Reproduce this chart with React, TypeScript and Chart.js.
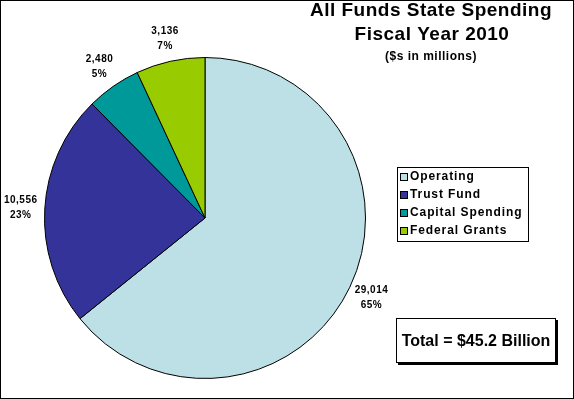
import React, { useEffect, useRef } from "react";
import { Chart, registerables } from "chart.js";

Chart.register(...registerables);

const categories = ["Operating", "Trust Fund", "Capital Spending", "Federal Grants"];
const values = [29014, 10556, 2480, 3136];
const percentLabels = ["65%", "23%", "5%", "7%"];
const colors = ["#BCE0E5", "#333399", "#009999", "#99CC00"];
const titleLines = ["All Funds State Spending", "Fiscal Year 2010"];
const subtitle = "($s in millions)";
const totalText = "Total = $45.2 Billion";

const FONT = '"Liberation Sans", Arial, sans-serif';

const decorPlugin = {
  id: "decor",
  beforeDraw(chart: any) {
    const ctx = chart.ctx;
    ctx.save();
    ctx.fillStyle = "#ffffff";
    ctx.fillRect(0, 0, chart.width, chart.height);
    ctx.restore();
  },
  afterDraw(chart: any) {
    const ctx = chart.ctx as CanvasRenderingContext2D;
    const W = chart.width;
    const H = chart.height;
    ctx.save();
    // outer border
    ctx.strokeStyle = "#000";
    ctx.lineWidth = 1;
    ctx.strokeRect(0.5, 0.5, W - 1, H - 1);

    // titles
    ctx.fillStyle = "#000";
    ctx.textAlign = "center";
    ctx.textBaseline = "middle";
    (ctx as any).letterSpacing = "0.5px";
    ctx.font = `bold 19px ${FONT}`;
    ctx.fillText(titleLines[0], 431, 11);
    ctx.fillText(titleLines[1], 432, 35);
    ctx.font = `bold 12px ${FONT}`;
    ctx.fillText(subtitle, 431, 57);

    // data labels
    const meta = chart.getDatasetMeta(0);
    ctx.font = `bold 10px ${FONT}`;
    meta.data.forEach((arc: any, i: number) => {
      const p = arc.getProps(["x", "y", "startAngle", "endAngle", "outerRadius"], true);
      const mid = (p.startAngle + p.endAngle) / 2;
      const d = p.outerRadius * 1.15;
      const cx = p.x + Math.cos(mid) * d;
      const cy = p.y + Math.sin(mid) * d;
      ctx.fillText(values[i].toLocaleString("en-US"), cx, cy - 7);
      ctx.fillText(percentLabels[i], cx, cy + 8);
    });

    // legend
    const lx = 397, ly = 167, lw = 131, lh = 74;
    ctx.strokeStyle = "#000";
    ctx.strokeRect(lx + 0.5, ly + 0.5, lw, lh);
    ctx.textAlign = "left";
    ctx.font = `bold 12px ${FONT}`;
    (ctx as any).letterSpacing = "0.9px";
    categories.forEach((c, i) => {
      const ry = ly + 10 + i * 18;
      ctx.fillStyle = colors[i];
      ctx.fillRect(lx + 3, ry - 4, 7, 7);
      ctx.strokeStyle = "#000";
      ctx.strokeRect(lx + 3.5, ry - 3.5, 7, 7);
      ctx.fillStyle = "#000";
      ctx.fillText(c, lx + 13, ry);
    });

    // total box
    const bx = 396, by = 318, bw = 160, bh = 45;
    ctx.fillStyle = "#000";
    ctx.fillRect(bx + 2, by + 2, bw, bh);
    ctx.fillStyle = "#fff";
    ctx.fillRect(bx, by, bw, bh);
    ctx.strokeStyle = "#000";
    ctx.strokeRect(bx + 0.5, by + 0.5, bw - 1, bh - 1);
    ctx.fillStyle = "#000";
    ctx.textAlign = "center";
    (ctx as any).letterSpacing = "0px";
    ctx.font = `bold 16px ${FONT}`;
    ctx.fillText(totalText, bx + bw / 2, by + bh / 2 + 1);
    ctx.restore();
  },
};

export default function App() {
  const ref = useRef<HTMLCanvasElement>(null);
  useEffect(() => {
    if (!ref.current) return;
    const chart = new Chart(ref.current, {
      type: "pie",
      data: {
        labels: categories,
        datasets: [
          {
            data: values,
            backgroundColor: colors,
            borderColor: "#000",
            borderWidth: 1,
          },
        ],
      },
      options: {
        responsive: false,
        animation: false,
        layout: { padding: { left: 44, right: 208, top: 57, bottom: 20 } },
        plugins: {
          legend: { display: false },
          tooltip: { enabled: false },
          title: { display: false },
        },
      },
      plugins: [decorPlugin],
    });
    return () => chart.destroy();
  }, []);
  return (
    <div style={{ position: "absolute", left: 0, top: 0, width: 574, height: 399 }}>
      <canvas ref={ref} width={574} height={399} style={{ display: "block" }} />
    </div>
  );
}
